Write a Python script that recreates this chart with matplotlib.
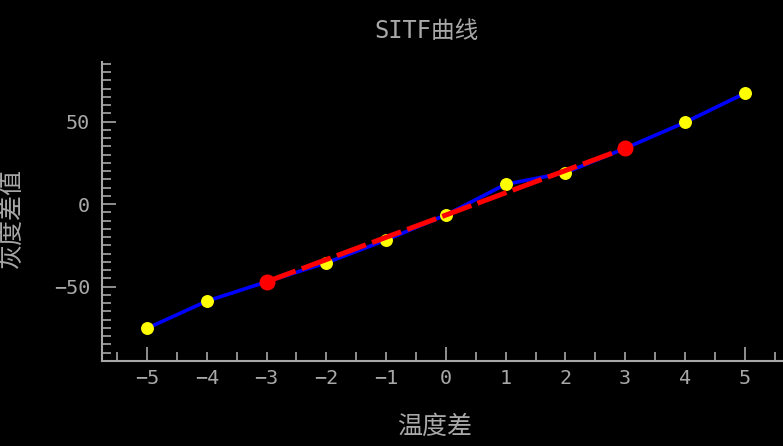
import matplotlib
matplotlib.use("Agg")
import matplotlib.pyplot as plt
from matplotlib.ticker import FixedLocator, MultipleLocator

# ---- data ----
temp_diff = [-5, -4, -3, -2, -1, 0, 1, 2, 3, 4, 5]
gray_diff = [-75.2, -58.7, -47.0, -35.5, -21.7, -6.5, 12.1, 19.1, 33.9, 49.6, 67.2]
fit_x = [-3, 3]
fit_y = [-47.0, 33.9]
x_ticks = [-5, -4, -3, -2, -1, 0, 1, 2, 3, 4, 5]
y_ticks = [-50, 0, 50]
title_text = "SITF曲线"
xlabel_text = "温度差"
ylabel_text = "灰度差值"

GRAY = "#a8a8a8"
MONO_CJK = ["DejaVu Sans Mono", "Noto Sans CJK SC"]
CJK = ["Noto Sans CJK SC", "DejaVu Sans"]

W, H = 783, 446
fig = plt.figure(figsize=(W / 100, H / 100), dpi=100, facecolor="black")
ax = fig.add_axes([102 / W, 1 - 361 / H, 1 - 102 / W, (361 - 62) / H])
ax.set_facecolor("black")

ax.plot(temp_diff, gray_diff, color="#0000ff", lw=2.6, zorder=2)
ax.plot(temp_diff, gray_diff, linestyle="none", marker="o", ms=8.3,
        mfc="#ffff00", mec="#ffff00", zorder=3)
ax.plot(fit_x, fit_y, color="#ff0000", lw=3.6, dashes=(6.2, 1.3),
        marker="o", ms=10.5, mfc="#ff0000", mec="#ff0000", zorder=4)

ax.set_xlim(-5.754, 5.641)
ax.set_ylim(-95.0, 86.2)

for s in ["top", "right"]:
    ax.spines[s].set_visible(False)
for s in ["left", "bottom"]:
    ax.spines[s].set_color(GRAY)
    ax.spines[s].set_linewidth(1.5)

ax.xaxis.set_major_locator(FixedLocator(x_ticks))
ax.xaxis.set_minor_locator(MultipleLocator(0.5))
ax.yaxis.set_major_locator(FixedLocator(y_ticks))
ax.yaxis.set_minor_locator(MultipleLocator(5))
ax.set_xticklabels([f"{v}".replace("-", "\u2212") for v in x_ticks])
ax.set_yticklabels([f"{v}".replace("-", "\u2212") for v in y_ticks])

ax.tick_params(axis="x", which="major", direction="in", length=6.5, width=1.2,
               color=GRAY, labelcolor=GRAY, labelsize=14.5, pad=6)
ax.tick_params(axis="y", which="major", direction="in", length=10, width=1.2,
               color=GRAY, labelcolor=GRAY, labelsize=14.5, pad=8.5)
ax.tick_params(which="minor", direction="in", length=6.5, width=1.2, color=GRAY)
for lab in ax.get_xticklabels() + ax.get_yticklabels():
    lab.set_family("DejaVu Sans Mono")

# taller major ticks at -5, 0, 5
for tick, v in zip(ax.xaxis.get_major_ticks(), x_ticks):
    if v in (-5, 0, 5):
        tick.tick1line.set_markersize(10)

fig.text(427 / W, 1 - 31.5 / H, title_text, color=GRAY, fontsize=17,
         family=MONO_CJK, ha="center", va="center")
fig.text(435 / W, 1 - 427 / H, xlabel_text, color=GRAY, fontsize=18,
         family=CJK, ha="center", va="center")
fig.text(12 / W, 1 - 218 / H, ylabel_text, color=GRAY, fontsize=18,
         family=CJK, ha="center", va="center", rotation=90)

fig.savefig("out.png", dpi=100, facecolor="black")
